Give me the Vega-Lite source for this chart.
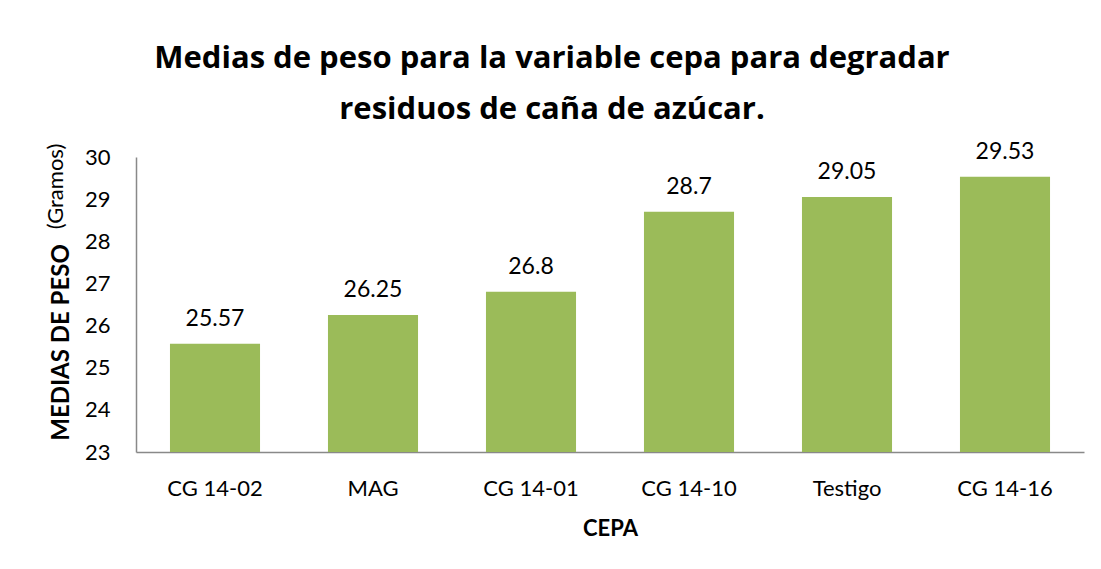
{
  "$schema": "https://vega.github.io/schema/vega-lite/v6.json",
  "width": 948,
  "height": 295,
  "autosize": {"type": "none"},
  "padding": {"left": 136, "top": 157, "right": 17, "bottom": 117},
  "background": "white",
  "title": {
    "text": ["Medias  de peso para la variable cepa para degradar", "residuos de caña de azúcar."],
    "font": "Open Sans",
    "fontSize": 31,
    "fontWeight": "bold",
    "color": "black",
    "lineHeight": 51,
    "anchor": "middle",
    "dx": -58,
    "offset": 15
  },
  "data": {
    "values": [
      {"cepa": "CG 14-02", "peso": 25.57},
      {"cepa": "MAG", "peso": 26.25},
      {"cepa": "CG 14-01", "peso": 26.8},
      {"cepa": "CG 14-10", "peso": 28.7},
      {"cepa": "Testigo", "peso": 29.05},
      {"cepa": "CG 14-16", "peso": 29.53}
    ]
  },
  "encoding": {
    "x": {
      "field": "cepa",
      "type": "nominal",
      "sort": null,
      "scale": {"paddingInner": 0.43, "paddingOuter": 0.215},
      "axis": {
        "title": "CEPA",
        "labelAngle": 0,
        "ticks": false,
        "tickSize": 0,
        "domainColor": "#898989",
        "domainWidth": 1.5,
        "labelFontSize": 22,
        "labelColor": "black",
        "labelPadding": 26,
        "titleFontSize": 22,
        "titleFontWeight": "bold",
        "titleColor": "black",
        "titlePadding": 19
      }
    }
  },
  "layer": [
    {
      "mark": {"type": "bar", "color": "#9BBB59"},
      "encoding": {
        "y": {
          "field": "peso",
          "type": "quantitative",
          "scale": {"domain": [23, 30], "zero": false, "nice": false},
          "axis": {
            "title": "MEDIAS DE PESO",
            "values": [23, 24, 25, 26, 27, 28, 29, 30],
            "grid": false,
            "ticks": false,
            "tickSize": 0,
            "domainColor": "#898989",
            "domainWidth": 1.5,
            "labelFontSize": 22,
            "labelColor": "black",
            "labelPadding": 26,
            "titleFontSize": 24,
            "titleFontWeight": "bold",
            "titleColor": "black",
            "titleX": -75,
            "titleY": 185,
            "titleAngle": -90,
            "titleAlign": "center",
            "titleBaseline": "middle"
          }
        },
        "y2": {"datum": 23}
      }
    },
    {
      "mark": {"type": "text", "baseline": "alphabetic", "dy": -18, "fontSize": 23, "font": "Lato", "color": "black"},
      "encoding": {
        "y": {
          "field": "peso",
          "type": "quantitative",
          "scale": {"domain": [23, 30], "zero": false, "nice": false},
          "axis": {
            "orient": "left",
            "title": "(Gramos)",
            "labels": false,
            "domain": false,
            "ticks": false,
            "tickSize": 0,
            "grid": false,
            "titleFontSize": 22,
            "titleFontWeight": "normal",
            "titleColor": "black",
            "titleX": -81,
            "titleY": 29,
            "titleAngle": -90,
            "titleAlign": "center",
            "titleBaseline": "middle"
          }
        },
        "text": {"field": "peso", "type": "quantitative"}
      }
    }
  ],
  "resolve": {"axis": {"y": "independent"}},
  "config": {"view": {"stroke": null}, "font": "Lato"}
}
